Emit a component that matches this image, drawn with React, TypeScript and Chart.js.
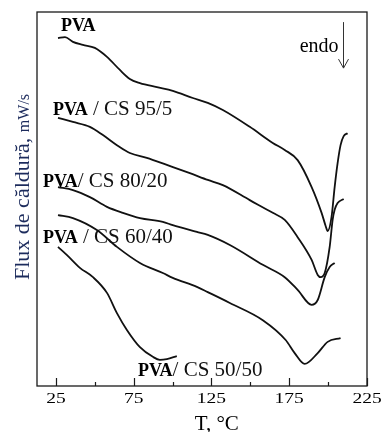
import React, { useEffect, useRef } from "react";
import { Chart, registerables } from "chart.js";

Chart.register(...registerables);

// ---- Axis ticks ----
const X_TICKS = [25, 75, 125, 175, 225];
const X_MINOR = [50, 100, 150, 200];
const X_MIN = 12.8;
const X_MAX = 225;

// ---- Series (temperature °C, heat flow in arbitrary units) ----
const PVA_T = [26.3, 30.8, 35.9, 42.3, 50.0, 57.8, 66.1, 72.5, 79.0, 89.9, 100.1, 113.0, 122.6, 132.3, 149.6, 164.4, 172.1, 180.4, 189.4, 195.8, 198.4, 199.7, 202.2, 204.2, 206.1, 208.0, 210.0, 212.5];
const PVA_F = [93.0, 93.3, 92.0, 91.2, 90.4, 88.0, 84.5, 82.1, 81.0, 79.9, 78.9, 77.0, 75.7, 73.8, 69.3, 65.0, 63.1, 60.4, 53.2, 46.3, 42.8, 41.4, 45.2, 53.2, 59.6, 64.4, 66.8, 67.6];

const CS95_T = [26.3, 35.9, 46.8, 55.2, 64.2, 72.5, 83.4, 96.3, 111.1, 122.6, 132.3, 149.6, 164.4, 172.1, 180.4, 189.4, 193.3, 195.2, 197.8, 201.0, 202.9, 204.2, 206.1, 210.0];
const CS95_F = [71.7, 70.6, 69.3, 67.1, 64.4, 62.3, 61.0, 59.1, 56.9, 55.1, 53.7, 49.7, 46.3, 44.4, 39.8, 33.7, 29.7, 29.1, 30.2, 37.2, 44.4, 47.1, 48.9, 50.0];

const CS80_T = [26.3, 35.9, 46.8, 57.8, 68.0, 79.0, 93.7, 100.1, 115.6, 122.6, 136.8, 158.0, 172.1, 180.4, 189.4, 193.3, 197.8, 201.0, 204.2];
const CS80_F = [53.2, 52.4, 50.5, 47.9, 46.3, 44.9, 43.9, 43.0, 41.2, 40.4, 37.7, 32.4, 29.1, 25.7, 21.7, 23.0, 29.1, 31.8, 32.9];

const CS60_T = [26.3, 35.9, 51.3, 64.2, 79.0, 93.7, 100.1, 115.6, 122.6, 136.8, 158.0, 172.7, 178.5, 184.9, 193.3, 199.7, 208.0];
const CS60_F = [45.7, 44.9, 41.7, 37.2, 32.9, 30.2, 28.9, 26.5, 25.1, 22.2, 17.6, 12.3, 8.8, 5.9, 8.8, 11.8, 12.8];

const CS50_T = [26.3, 32.1, 40.4, 48.8, 57.8, 64.2, 70.6, 79.0, 87.3, 91.8, 96.3, 102.7];
const CS50_F = [37.2, 35.0, 31.6, 29.1, 24.9, 19.5, 15.0, 10.4, 7.8, 7.0, 7.2, 8.0];

// ---- Curve labels: bold part + rest ----
const LABEL_BOLD = ["PVA", "PVA", "PVA", "PVA", "PVA"];
const LABEL_REST = ["", " / CS 95/5", "/ CS 80/20", " / CS 60/40", "/ CS 50/50"];

const SERIES = [
  { t: PVA_T, f: PVA_F },
  { t: CS95_T, f: CS95_F },
  { t: CS80_T, f: CS80_F },
  { t: CS60_T, f: CS60_F },
  { t: CS50_T, f: CS50_F },
];

// label anchors in data coordinates (left, baseline)
const LABEL_POS = [
  { x: 28.2, y: 94.9 },
  { x: 23.1, y: 72.5 },
  { x: 16.7, y: 53.2 },
  { x: 16.7, y: 38.2 },
  { x: 77.7, y: 2.7 },
];

const SERIF = '"Liberation Serif", "Times New Roman", serif';

const decor = {
  id: "decor",
  afterDatasetsDraw(chart: any) {
    const { ctx, chartArea: a, scales } = chart;
    const x = scales.x;
    const y = scales.y;
    ctx.save();

    // frame
    ctx.strokeStyle = "#1a1a1a";
    ctx.lineWidth = 1.3;
    ctx.strokeRect(a.left, a.top, a.right - a.left, a.bottom - a.top);

    // inward ticks
    ctx.beginPath();
    ctx.lineWidth = 1.2;
    X_TICKS.forEach((v) => {
      const px = Math.round(x.getPixelForValue(v)) + 0.5;
      ctx.moveTo(px, a.bottom);
      ctx.lineTo(px, a.bottom - 8);
    });
    X_MINOR.forEach((v) => {
      const px = Math.round(x.getPixelForValue(v)) + 0.5;
      ctx.moveTo(px, a.bottom);
      ctx.lineTo(px, a.bottom - 4);
    });
    ctx.stroke();

    // tick labels
    ctx.fillStyle = "#000";
    ctx.font = `15px ${SERIF}`;
    ctx.textAlign = "center";
    ctx.textBaseline = "alphabetic";
    X_TICKS.forEach((v) => {
      const px = x.getPixelForValue(v);
      ctx.save();
      ctx.translate(px, a.bottom + 16.5);
      ctx.scale(1.3, 1);
      ctx.fillText(String(v), 0, 0);
      ctx.restore();
    });

    // x title
    ctx.font = `21px ${SERIF}`;
    ctx.fillText("T, °C", x.getPixelForValue(128.4), 430);

    // y title
    ctx.save();
    ctx.translate(29, 280);
    ctx.rotate(-Math.PI / 2);
    ctx.textAlign = "left";
    ctx.fillStyle = "#1c2b5c";
    ctx.font = `22px ${SERIF}`;
    const main = "Flux de căldură, ";
    ctx.fillText(main, 0, 0);
    const w = ctx.measureText(main).width;
    ctx.font = `16px ${SERIF}`;
    ctx.fillText("mW/s", w, 0);
    ctx.restore();

    // curve labels
    ctx.textAlign = "left";
    LABEL_POS.forEach((p, i) => {
      const lx = x.getPixelForValue(p.x);
      const ly = y.getPixelForValue(p.y);
      ctx.fillStyle = "#000";
      ctx.font = `bold 18px ${SERIF}`;
      ctx.fillText(LABEL_BOLD[i], lx, ly);
      const bw = ctx.measureText(LABEL_BOLD[i]).width;
      ctx.fillStyle = "#111";
      ctx.font = `21px ${SERIF}`;
      ctx.fillText(LABEL_REST[i], lx + bw, ly);
    });

    // endo + arrow
    ctx.fillStyle = "#000";
    ctx.font = `20px ${SERIF}`;
    ctx.fillText("endo", x.getPixelForValue(181.7), y.getPixelForValue(89.3));
    const ax = Math.round(x.getPixelForValue(209.3)) + 0.5;
    const ay0 = y.getPixelForValue(97.3);
    const ay1 = y.getPixelForValue(85.0);
    ctx.strokeStyle = "#333";
    ctx.lineWidth = 1;
    ctx.beginPath();
    ctx.moveTo(ax, ay0);
    ctx.lineTo(ax, ay1);
    ctx.moveTo(ax - 5, ay1 - 9);
    ctx.lineTo(ax, ay1);
    ctx.lineTo(ax + 5, ay1 - 9);
    ctx.stroke();

    ctx.restore();
  },
};

export default function App() {
  const ref = useRef<HTMLCanvasElement | null>(null);

  useEffect(() => {
    if (!ref.current) return;
    const chart = new Chart(ref.current, {
      type: "line",
      data: {
        datasets: SERIES.map((s, i) => ({
          label: LABEL_BOLD[i] + LABEL_REST[i],
          data: s.t.map((t, j) => ({ x: t, y: s.f[j] })),
          borderColor: "#111",
          borderWidth: 1.8,
          pointRadius: 0,
          fill: false,
          cubicInterpolationMode: "monotone" as const,
        })),
      },
      options: {
        responsive: false,
        maintainAspectRatio: false,
        animation: false,
        layout: { padding: { left: 0, top: 12, right: 15, bottom: 0 } },
        plugins: { legend: { display: false }, tooltip: { enabled: false } },
        scales: {
          x: {
            type: "linear",
            min: X_MIN,
            max: X_MAX,
            ticks: { display: false },
            grid: { display: false },
            border: { display: false },
            afterFit: (s: any) => {
              s.height = 46;
            },
          },
          y: {
            type: "linear",
            min: 0,
            max: 100,
            ticks: { display: false },
            grid: { display: false },
            border: { display: false },
            afterFit: (s: any) => {
              s.width = 37;
            },
          },
        },
      },
      plugins: [decor],
    });
    return () => chart.destroy();
  }, []);

  return (
    <div style={{ position: "absolute", left: 0, top: 0, width: 382, height: 432, background: "#fff" }}>
      <canvas ref={ref} width={382} height={432} style={{ display: "block" }} />
    </div>
  );
}
